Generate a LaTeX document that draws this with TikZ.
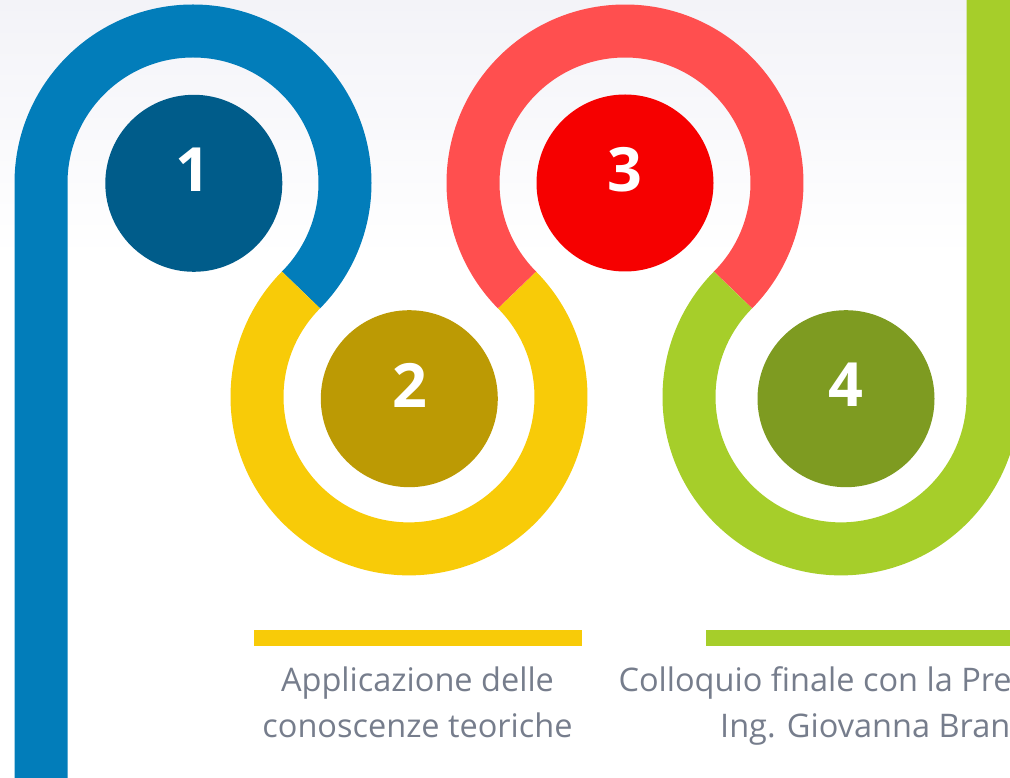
\documentclass[tikz,border=0pt]{standalone}
\usepackage{fontspec}
\setmainfont{Open Sans}
\usetikzlibrary{calc}
\definecolor{blueL}{RGB}{2,125,186}
\definecolor{blueD}{RGB}{0,92,138}
\definecolor{yelL}{RGB}{248,203,8}
\definecolor{yelD}{RGB}{188,154,4}
\definecolor{redL}{RGB}{255,79,79}
\definecolor{redD}{RGB}{246,0,0}
\definecolor{grnL}{RGB}{166,206,42}
\definecolor{grnD}{RGB}{126,155,33}
\definecolor{txtgray}{RGB}{118,125,140}
\definecolor{bgtop}{RGB}{243,243,248}
\begin{document}
\begin{tikzpicture}[x=1pt,y=1pt,
  band/.style={line width=53pt, line cap=butt},
  dot/.style={circle, minimum size=177pt, inner sep=0pt},
  num/.style={text=white, font=\bfseries\fontsize{61}{61}\selectfont, inner sep=0pt},
  lbl/.style={text=txtgray, font=\fontsize{32.5}{45}\selectfont, inner sep=0pt}]
\useasboundingbox (0,0) rectangle (1010,777);
\clip (0,0) rectangle (1010,777);
\fill[white] (0,0) rectangle (1010,777);
\shade[top color=bgtop, bottom color=white] (0,520) rectangle (1010,777);
% arc centres
\coordinate (C1) at (193,594);
\coordinate (C2) at (409,380.1);
\coordinate (C3) at (625,594);
\coordinate (C4) at (841,380.1);
\coordinate (B0) at (41,-10);
% path segments
\draw[band, blueL] (B0) -- ($(C1)+(180:152)$) arc[start angle=180, end angle=-44.7, radius=152];
\draw[band, yelL] ($(C2)+(135.3:152)$) arc[start angle=135.3, end angle=404.7, radius=152];
\draw[band, redL] ($(C3)+(224.7:152)$) arc[start angle=224.7, end angle=-44.7, radius=152];
\draw[band, grnL] ($(C4)+(135.3:152)$) arc[start angle=135.3, end angle=360, radius=152] -- ++(0,460);
% circles
\node[dot, fill=blueD] (c1) at (193.8,593.7) {};
\node[dot, fill=yelD] (c2) at (409.3,378.3) {};
\node[dot, fill=redD] (c3) at (625,594) {};
\node[dot, fill=grnD] (c4) at (846,378.3) {};
% numbers
\node[num] (n1) at (192.5,607.5) {1};
\node[num] (n2) at (409.5,392) {2};
\node[num] (n3) at (625.3,607.3) {3};
\node[num] (n4) at (846,392) {4};
% bars
\fill[yelL] (254,131.3) rectangle (582,147);
\fill[grnL] (706,131.3) rectangle (1040,147);
% labels
\node[lbl, anchor=base] (t1a) at (417.5,85.3) {Applicazione delle};
\node[lbl, anchor=base] (t1b) at (417.5,39.7) {conoscenze teoriche};
\node[lbl, anchor=base west] (t2a) at (618.3,85.3) {Colloquio finale con la Presidente};
\node[lbl, anchor=base west] (t2b) at (720,39.7) {Ing. Giovanna Brandi};
\end{tikzpicture}
\end{document}
